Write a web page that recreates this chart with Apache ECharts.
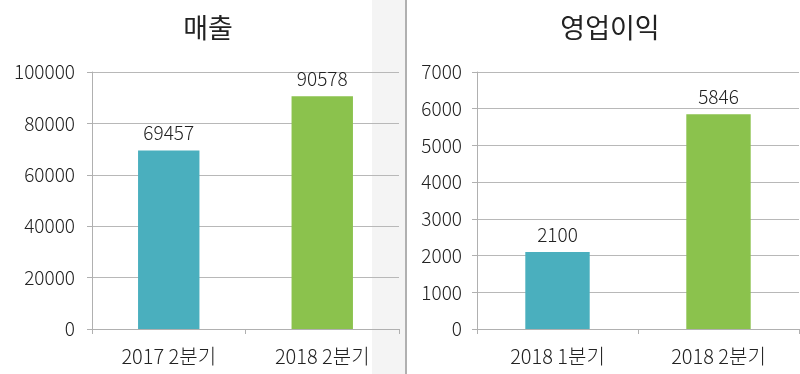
<!DOCTYPE html>
<html><head><meta charset="utf-8">
<script src="https://cdn.jsdelivr.net/npm/echarts@6/dist/echarts.min.js"></script>
<style>html,body{margin:0;padding:0;background:#fff}#c{width:800px;height:374px}</style>
</head><body><div id="c"></div>
<script>
const salesCategories = ['2017 2분기', '2018 2분기'];
const salesValues = [69457, 90578];
const profitCategories = ['2018 1분기', '2018 2분기'];
const profitValues = [2100, 5846];
const barColors = ['#4AAFBE', '#8BC24D'];
const titles = ['매출', '영업이익'];

const FONT = '"Noto Sans CJK KR", "Noto Sans", sans-serif';
const chart = echarts.init(document.getElementById('c'), null, {renderer: 'canvas'});

function yAx(gi, max, interval, margin) {
  return {
    gridIndex: gi, type: 'value', min: 0, max: max, interval: interval,
    axisLine: {show: true, lineStyle: {color: '#b0b0b0', width: 1}},
    axisTick: {show: true, length: 5, lineStyle: {color: '#b0b0b0'}},
    splitLine: {show: true, lineStyle: {color: '#b8b8b8', width: 1}},
    axisLabel: {color: '#222', fontSize: 19, fontWeight: 300, fontFamily: FONT, margin: margin,
      formatter: v => String(v)}
  };
}
function xAx(gi, cats) {
  return {
    gridIndex: gi, type: 'category', data: cats,
    axisLine: {show: true, lineStyle: {color: '#b0b0b0', width: 1}},
    axisTick: {show: true, length: 5, lineStyle: {color: '#b0b0b0'}},
    axisLabel: {color: '#222', fontSize: 20, fontWeight: 300, fontFamily: FONT, margin: 17}
  };
}
function barSeries(i, vals) {
  return {
    type: 'bar', xAxisIndex: i, yAxisIndex: i, barWidth: '40%',
    data: vals.map((v, k) => ({value: v, itemStyle: {color: barColors[k]}})),
    label: {show: true, position: 'top', distance: 8, color: '#222', fontSize: 19, fontWeight: 300, fontFamily: FONT}
  };
}

chart.setOption({
  animation: false,
  backgroundColor: '#fff',
  title: [
    {text: titles[0], left: 203, top: 9, textAlign: 'center',
     textStyle: {fontSize: 27, fontWeight: 'normal', color: '#222', fontFamily: FONT}},
    {text: titles[1], left: 605, top: 9, textAlign: 'center',
     textStyle: {fontSize: 27, fontWeight: 'normal', color: '#222', fontFamily: FONT}}
  ],
  graphic: [
    {type: 'rect', z: -10, shape: {x: 372, y: 0, width: 33, height: 374}, style: {fill: '#f4f4f4'}},
    {type: 'line', z: 10, shape: {x1: 406, y1: 0, x2: 406, y2: 374}, style: {stroke: '#b0b0b0', lineWidth: 2}}
  ],
  grid: [
    {left: 92, top: 72, width: 307, height: 257},
    {left: 477, top: 72, width: 322, height: 257}
  ],
  xAxis: [xAx(0, salesCategories), xAx(1, profitCategories)],
  yAxis: [yAx(0, 100000, 20000, 17), yAx(1, 7000, 1000, 15)],
  series: [barSeries(0, salesValues), barSeries(1, profitValues)]
});
</script></body></html>
